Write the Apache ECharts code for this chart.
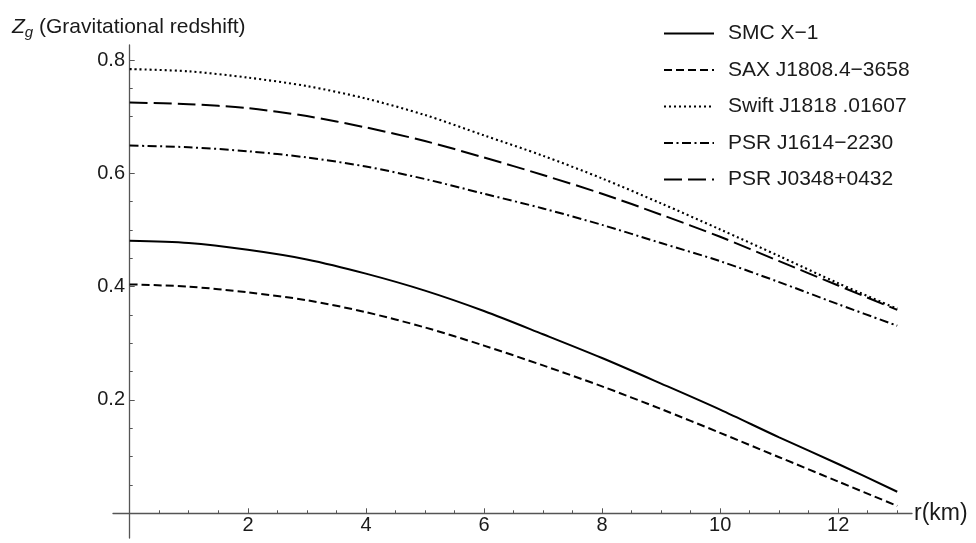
<!DOCTYPE html>
<html>
<head>
<meta charset="utf-8">
<script src="https://cdn.jsdelivr.net/npm/echarts@6/dist/echarts.min.js"></script>
<style>
html,body{margin:0;padding:0;background:#fff;}
#chart{width:976px;height:543px;}
</style>
</head>
<body>
<div id="chart"></div>
<script>
// ---- data ----
const rValues   = [0, 1, 2, 3, 4, 5, 6, 7, 8, 9, 10, 11, 12, 13];
const smcX1     = [0.481, 0.477, 0.465, 0.448, 0.423, 0.393, 0.357, 0.316, 0.274, 0.229, 0.183, 0.134, 0.087, 0.038];
const saxJ1808  = [0.404, 0.400, 0.390, 0.376, 0.355, 0.328, 0.296, 0.261, 0.224, 0.184, 0.142, 0.099, 0.056, 0.013];
const swiftJ1818= [0.784, 0.780, 0.769, 0.754, 0.732, 0.703, 0.667, 0.631, 0.591, 0.547, 0.501, 0.454, 0.406, 0.361];
const psrJ1614  = [0.649, 0.646, 0.639, 0.628, 0.612, 0.590, 0.564, 0.538, 0.509, 0.477, 0.445, 0.408, 0.369, 0.331];
const psrJ0348  = [0.725, 0.722, 0.715, 0.701, 0.681, 0.657, 0.628, 0.597, 0.564, 0.527, 0.488, 0.445, 0.402, 0.359];
const seriesNames = ['SMC X\u22121', 'SAX J1808.4\u22123658', 'Swift J1818 .01607', 'PSR J1614\u22122230', 'PSR J0348+0432'];
const xMajorTicks = [2, 4, 6, 8, 10, 12];
const xMinorTicks = [0.5, 1, 1.5, 2.5, 3, 3.5, 4.5, 5, 5.5, 6.5, 7, 7.5, 8.5, 9, 9.5, 10.5, 11, 11.5, 12.5, 13];
const yMajorTicks = [0.2, 0.4, 0.6, 0.8];
const yMinorTicks = [0.05, 0.1, 0.15, 0.25, 0.3, 0.35, 0.45, 0.5, 0.55, 0.65, 0.7, 0.75];

const FONT = '"Liberation Sans", Arial, sans-serif';
const AXIS_COLOR = '#555';
const TEXT_COLOR = '#1a1a1a';

function pairs(ys) { return rValues.map((r, i) => [r, ys[i]]); }

const styles = [
  { type: 'solid', width: 2 },
  { type: [8, 4], width: 2 },
  { type: [2, 3], width: 2.1 },
  { type: [9, 3.5, 2, 3.5], width: 2 },
  { type: [18, 6], width: 2 }
];
const datasets = [smcX1, saxJ1808, swiftJ1818, psrJ1614, psrJ0348];

const chart = echarts.init(document.getElementById('chart'), null, { renderer: 'canvas' });

const xRange = { min: -0.283, max: 13.25 };
const yRange = { min: -0.0436, max: 0.8265 };

chart.setOption({
  animation: false,
  backgroundColor: '#fff',
  title: {
    text: '{z|Z}{s|g} (Gravitational redshift)',
    left: 7, top: 10,
    textStyle: {
      fontFamily: FONT, fontSize: 21, fontWeight: 'normal', color: TEXT_COLOR,
      rich: {
        z: { fontFamily: FONT, fontSize: 21, fontStyle: 'italic', color: TEXT_COLOR },
        s: { fontFamily: FONT, fontSize: 15, fontStyle: 'italic', color: TEXT_COLOR, padding: [10, 0, 0, 0] }
      }
    }
  },
  legend: {
    orient: 'vertical',
    left: 663, top: 23, padding: 0,
    itemWidth: 50, itemHeight: 14, itemGap: 15.5,
    data: seriesNames,
    itemStyle: { opacity: 0 },
    textStyle: { fontFamily: FONT, fontSize: 21, color: TEXT_COLOR, lineHeight: 21, padding: [0, 0, 0, 9] }
  },
  grid: [
    { left: 113, right: 64, top: 45, bottom: 5, containLabel: false, outerBoundsMode: 'none' },
    { left: 130, right: 64, top: 45, bottom: 29.7, containLabel: false, outerBoundsMode: 'none' }
  ],
  xAxis: [
    {
      gridIndex: 0, type: 'value', min: xRange.min, max: xRange.max, position: 'bottom',
      axisLine: { show: true, onZero: true, onZeroAxisIndex: 0, lineStyle: { color: AXIS_COLOR, width: 1.3 } },
      axisTick: { show: true, inside: true, length: 5, customValues: xMajorTicks, lineStyle: { color: AXIS_COLOR, width: 1 } },
      axisLabel: { show: false },
      splitLine: { show: false }
    },
    {
      gridIndex: 0, type: 'value', min: xRange.min, max: xRange.max, position: 'bottom',
      axisLine: { show: false, onZero: true, onZeroAxisIndex: 0 },
      axisTick: { show: true, inside: true, length: 3, customValues: xMinorTicks, lineStyle: { color: AXIS_COLOR, width: 1 } },
      axisLabel: { show: false },
      splitLine: { show: false }
    },
    {
      gridIndex: 1, type: 'value', min: 0, max: xRange.max, position: 'bottom',
      axisLine: { show: false },
      axisTick: { show: false },
      axisLabel: { show: true, customValues: xMajorTicks, fontFamily: FONT, fontSize: 20, color: TEXT_COLOR, margin: 2,
                   formatter: v => String(Math.round(v)) },
      splitLine: { show: false },
      name: 'r(km)', nameLocation: 'end', nameGap: 2,
      nameTextStyle: { fontFamily: FONT, fontSize: 23, color: TEXT_COLOR }
    }
  ],
  yAxis: [
    {
      gridIndex: 0, type: 'value', min: yRange.min, max: yRange.max, position: 'left',
      axisLine: { show: true, onZero: true, onZeroAxisIndex: 0, lineStyle: { color: AXIS_COLOR, width: 1.3 } },
      axisTick: { show: true, inside: true, length: 5, customValues: yMajorTicks, lineStyle: { color: AXIS_COLOR, width: 1 } },
      axisLabel: { show: false },
      splitLine: { show: false }
    },
    {
      gridIndex: 0, type: 'value', min: yRange.min, max: yRange.max, position: 'left',
      axisLine: { show: false, onZero: true, onZeroAxisIndex: 0 },
      axisTick: { show: true, inside: true, length: 3, customValues: yMinorTicks, lineStyle: { color: AXIS_COLOR, width: 1 } },
      axisLabel: { show: false },
      splitLine: { show: false }
    },
    {
      gridIndex: 1, type: 'value', min: 0, max: yRange.max, position: 'left',
      axisLine: { show: false },
      axisTick: { show: false },
      axisLabel: { show: true, customValues: yMajorTicks, fontFamily: FONT, fontSize: 20, color: TEXT_COLOR, margin: 5,
                   formatter: v => v.toFixed(1) },
      splitLine: { show: false }
    }
  ],
  series: datasets.map((d, i) => ({
    name: seriesNames[i],
    type: 'line',
    xAxisIndex: 0, yAxisIndex: 0,
    data: pairs(d),
    smooth: 0.3,
    symbol: 'none',
    showSymbol: false,
    color: '#000',
    lineStyle: { color: '#000', width: styles[i].width, type: styles[i].type },
    emphasis: { disabled: true }
  }))
});
</script>
</body>
</html>
